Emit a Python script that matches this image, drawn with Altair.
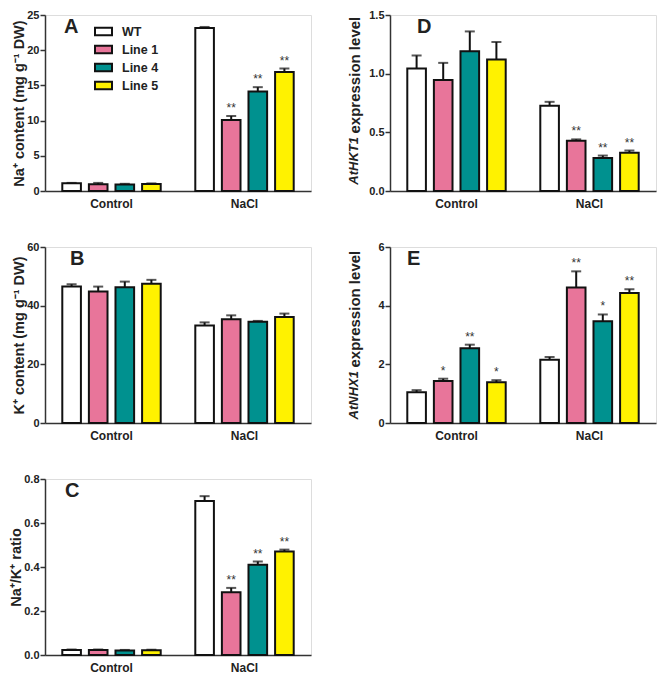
import altair as alt
import pandas as pd

groups = ["Control", "NaCl"]
lines = ["WT", "Line 1", "Line 4", "Line 5"]
colors = ["#FFFFFF", "#E8759A", "#00918F", "#FFF200"]

# Panel A: Na+ content
na_ctrl = [1.1, 0.97, 0.92, 1.0]
na_ctrl_err = [0.05, 0.18, 0.1, 0.08]
na_nacl = [23.15, 10.1, 14.15, 16.9]
na_nacl_err = [0.15, 0.55, 0.6, 0.5]
na_ctrl_sig = ["", "", "", ""]
na_nacl_sig = ["", "**", "**", "**"]

# Panel B: K+ content
k_ctrl = [46.5, 44.8, 46.3, 47.5]
k_ctrl_err = [0.8, 1.7, 1.9, 1.3]
k_nacl = [33.2, 35.4, 34.5, 36.1]
k_nacl_err = [1.1, 1.3, 0.3, 1.2]
k_ctrl_sig = ["", "", "", ""]
k_nacl_sig = ["", "", "", ""]

# Panel C: Na+/K+ ratio
r_ctrl = [0.023, 0.023, 0.021, 0.022]
r_ctrl_err = [0.002, 0.002, 0.002, 0.002]
r_nacl = [0.70, 0.285, 0.41, 0.47]
r_nacl_err = [0.022, 0.02, 0.015, 0.009]
r_ctrl_sig = ["", "", "", ""]
r_nacl_sig = ["", "**", "**", "**"]

# Panel D: AtHKT1 expression
h_ctrl = [1.045, 0.947, 1.19, 1.12]
h_ctrl_err = [0.11, 0.145, 0.17, 0.15]
h_nacl = [0.727, 0.428, 0.282, 0.325]
h_nacl_err = [0.033, 0.012, 0.02, 0.02]
h_ctrl_sig = ["", "", "", ""]
h_nacl_sig = ["", "**", "**", "**"]

# Panel E: AtNHX1 expression
n_ctrl = [1.05, 1.43, 2.55, 1.39]
n_ctrl_err = [0.07, 0.08, 0.12, 0.07]
n_nacl = [2.16, 4.62, 3.47, 4.43]
n_nacl_err = [0.09, 0.55, 0.23, 0.13]
n_ctrl_sig = ["", "*", "**", "*"]
n_nacl_sig = ["", "**", "*", "**"]

FONT = "Liberation Sans"
H = 176


def frame(ctrl, ctrl_err, nacl, nacl_err, ctrl_sig, nacl_sig):
    rows = []
    for g, vals, errs, sigs in [("Control", ctrl, ctrl_err, ctrl_sig),
                                ("NaCl", nacl, nacl_err, nacl_sig)]:
        for l, v, e, s in zip(lines, vals, errs, sigs):
            rows.append({"group": g, "line": l, "value": v, "top": v + e, "sig": s})
    return pd.DataFrame(rows)


def panel(df, ymax, ticks, fmt, title, letter, letter_x, width, legend=False, ital=None):
    x = alt.X("group:N", sort=groups, title=None,
              scale=alt.Scale(paddingInner=0.2, paddingOuter=0.1),
              axis=alt.Axis(ticks=False, labelAngle=0, labelFontSize=12, labelFontWeight="bold",
                            labelPadding=7, domainColor="#333", domainWidth=1.5,
                            labelColor="#222", labelFont=FONT))
    xo = alt.XOffset("line:N", sort=lines,
                     scale=alt.Scale(paddingInner=0.3, paddingOuter=0.15))
    common = dict(values=ticks, format=fmt, grid=False, tickSize=5, tickWidth=1.5,
                  tickColor="#333", domainColor="#333", domainWidth=1.5,
                  labelFontSize=11, labelFontWeight="bold", labelColor="#222",
                  labelFont=FONT, labelPadding=1, labelOverlap=False,
                  titleFont=FONT, titleFontWeight="bold", titleColor="#222")
    if ital is None:
        yaxis = alt.Axis(titleFontSize=14.5, titlePadding=0, **common)
        ytitle = title
    else:
        it_text, rest_text, anchor_y = ital
        yaxis = alt.Axis(titleFontSize=15, titleAngle=270, titleAlign="left",
                         titleBaseline="middle", titleX=-36, titleY=anchor_y - 4, **common)
        ytitle = rest_text
    ysc = alt.Scale(domain=[0, ymax], nice=False)
    y = alt.Y("value:Q", scale=ysc, axis=yaxis, title=ytitle)
    ytop = alt.Y("top:Q", scale=ysc, axis=yaxis, title=ytitle)

    if legend:
        leg = alt.Legend(orient="none", legendX=49, legendY=7, title=None,
                         symbolType="M-1,-0.45H1V0.45H-1Z", symbolSize=289,
                         symbolStrokeColor="#111", symbolStrokeWidth=2,
                         labelFontSize=12.5, labelFontWeight="bold", labelFont=FONT,
                         labelColor="#222", rowPadding=0, labelOffset=9)
        fill = alt.Fill("line:N", sort=lines, scale=alt.Scale(domain=lines, range=colors), legend=leg)
    else:
        fill = alt.Fill("line:N", sort=lines, scale=alt.Scale(domain=lines, range=colors), legend=None)

    base = alt.Chart(df).encode(x=x, xOffset=xo)
    bars = base.mark_bar(stroke="#111", strokeWidth=2).encode(y=y, fill=fill)
    rule = base.mark_rule(color="#111", strokeWidth=2).encode(y=y, y2="top:Q")
    cap = base.mark_tick(color="#111", thickness=2, size=10).encode(y=ytop)
    sig = base.mark_text(font=FONT, fontSize=12, color="#333", baseline="bottom", dy=-1).encode(
        y=ytop, text="sig:N")
    let = alt.Chart(pd.DataFrame({"t": [letter]})).mark_text(
        font=FONT, fontSize=20, fontWeight="bold", align="left", baseline="top", color="#222"
    ).encode(text="t:N", x=alt.value(letter_x), y=alt.value(2))
    layers = [bars, rule, cap, sig, let]
    if ital is not None:
        t1 = alt.Chart(pd.DataFrame({"t": [it_text]})).mark_text(
            font=FONT, fontSize=13, fontWeight="bold", fontStyle="italic", angle=270,
            align="right", baseline="middle", color="#222"
        ).encode(text="t:N", x=alt.value(-36), y=alt.value(anchor_y))
        layers.append(t1)
    return alt.layer(*layers).properties(width=width, height=H)


pA = panel(frame(na_ctrl, na_ctrl_err, na_nacl, na_nacl_err, na_ctrl_sig, na_nacl_sig),
           25, [0, 5, 10, 15, 20, 25], "d", "Na⁺ content (mg g⁻¹ DW)", "A", 19, 266, legend=True)
pB = panel(frame(k_ctrl, k_ctrl_err, k_nacl, k_nacl_err, k_ctrl_sig, k_nacl_sig),
           60, [0, 20, 40, 60], "d", "K⁺ content (mg g⁻¹ DW)", "B", 25, 266)
pC = panel(frame(r_ctrl, r_ctrl_err, r_nacl, r_nacl_err, r_ctrl_sig, r_nacl_sig),
           0.8, [0, 0.2, 0.4, 0.6, 0.8], ".1f", "Na⁺/K⁺ ratio", "C", 20, 266)
pD = panel(frame(h_ctrl, h_ctrl_err, h_nacl, h_nacl_err, h_ctrl_sig, h_nacl_sig),
           1.5, [0, 0.5, 1.0, 1.5], ".1f", None, "D", 27, 266,
           ital=("AtHKT1", "expression level", 122))
pE = panel(frame(n_ctrl, n_ctrl_err, n_nacl, n_nacl_err, n_ctrl_sig, n_nacl_sig),
           6, [0, 2, 4, 6], "d", None, "E", 17, 266,
           ital=("AtNHX1", "expression level", 124))

left = alt.vconcat(pA, pB, pC, spacing=30)
right = alt.vconcat(pD, pE, spacing=30)
chart = alt.hconcat(left, right, spacing=34).properties(padding=0).resolve_scale(
    fill="independent").configure_view(stroke=None).configure(background="white")

chart.save("out.html", embed_options={"renderer": "svg", "actions": False})
